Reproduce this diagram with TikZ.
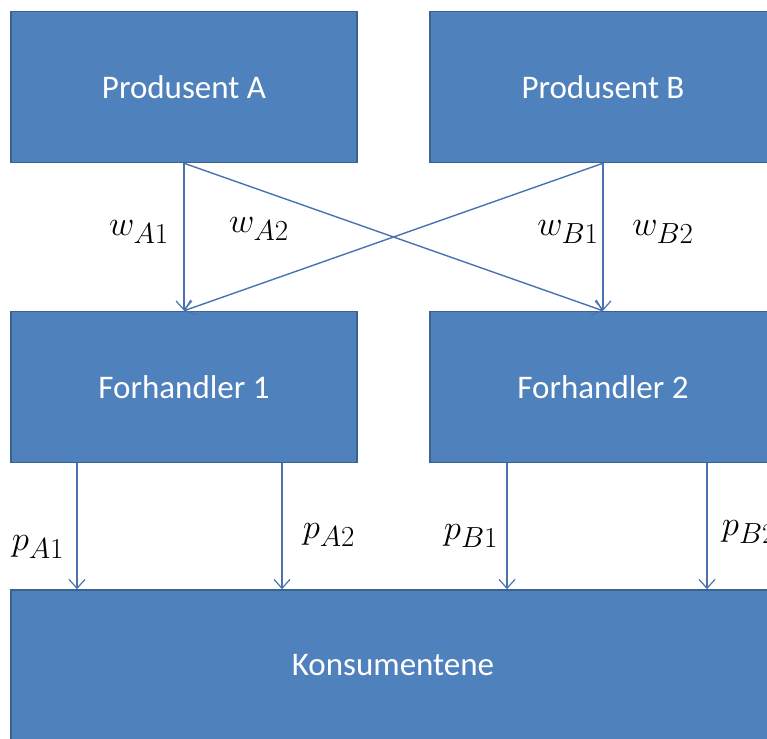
\documentclass[tikz,border=0pt]{standalone}
\usepackage{fontspec}
\setmainfont{Carlito}
\usetikzlibrary{arrows.meta}
\definecolor{boxfill}{HTML}{4F81BD}
\definecolor{boxline}{HTML}{3A6392}
\definecolor{arrowc}{HTML}{4A72B0}
\newcommand{\biglbl}[1]{\scalebox{1.4}{$#1$}}
\tikzset{
  blockbox/.style={draw=boxline, line width=1.5pt, fill=boxfill, text=white,
    font=\fontsize{33}{38}\selectfont, inner sep=0pt, anchor=center},
  flow/.style={draw=arrowc, line width=1.4pt, -{Straight Barb[length=9pt,width=16pt,line width=1.2pt]}},
  lbl/.style={font=\fontsize{24.88}{30}\selectfont, inner sep=0pt}
}
\begin{document}
\begin{tikzpicture}[x=1pt,y=-1pt]
\useasboundingbox (0,0) rectangle (767,738);
\clip (0,0) rectangle (767,738);
\node[blockbox, minimum width=346pt, minimum height=151pt] (pa) at (184,87) {Produsent A};
\node[blockbox, minimum width=346pt, minimum height=151pt] (pb) at (603,87) {Produsent B};
\node[blockbox, minimum width=346pt, minimum height=151pt] (f1) at (184,387) {Forhandler 1};
\node[blockbox, minimum width=346pt, minimum height=151pt] (f2) at (603,387) {Forhandler 2};
\node[blockbox, minimum width=764pt, minimum height=150pt] (k) at (393,665) {Konsumentene};
\draw[flow] (pa.south) -- (f1.north);
\draw[flow] (pa.south) -- (f2.north);
\draw[flow] (pb.south) -- (f2.north);
\draw[flow] (pb.south) -- (f1.north);
\coordinate (c1) at (77,0);
\coordinate (c2) at (282,0);
\coordinate (c3) at (507,0);
\coordinate (c4) at (707,0);
\draw[flow] (f1.south -| c1) -- (k.north -| c1);
\draw[flow] (f1.south -| c2) -- (k.north -| c2);
\draw[flow] (f2.south -| c3) -- (k.north -| c3);
\draw[flow] (f2.south -| c4) -- (k.north -| c4);
\node[lbl] (lwa1) at (139,232) {\biglbl{w_{A1}}};
\node[lbl] (lwa2) at (259,229) {\biglbl{w_{A2}}};
\node[lbl] (lwb1) at (568,232) {\biglbl{w_{B1}}};
\node[lbl] (lwb2) at (663,232) {\biglbl{w_{B2}}};
\node[lbl] (lpa1) at (38,547) {\biglbl{p_{A1}}};
\node[lbl] (lpa2) at (329,535) {\biglbl{p_{A2}}};
\node[lbl] (lpb1) at (471,536) {\biglbl{p_{B1}}};
\node[lbl] (lpb2) at (749,532) {\biglbl{p_{B2}}};
\end{tikzpicture}
\end{document}
